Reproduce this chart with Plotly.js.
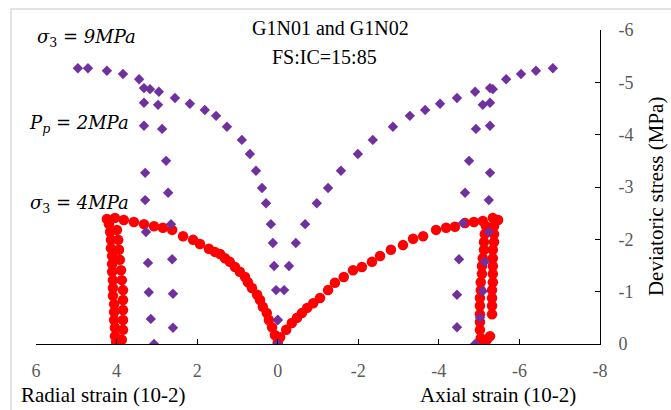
<!DOCTYPE html>
<html>
<head>
<meta charset="utf-8">
<script src="https://cdn.plot.ly/plotly-3.0.1.min.js"></script>
<style>html,body{margin:0;padding:0;background:#fff;}#chart{width:671px;height:410px;}</style>
</head>
<body>
<div id="chart"></div>
<script>
// ---- Data (strain in 10^-2, deviatoric stress in MPa) ----
// sigma3 = 9 MPa test (purple diamonds)
const p9RadialX = [0.00,0.00,0.04,0.09,0.12,0.17,0.29,0.39,0.54,0.69,0.89,1.26,1.53,1.81,2.18,2.55,2.95,3.44,3.84,4.24,4.71,4.96];
const p9RadialY = [0,-0.46,-1.03,-1.49,-1.93,-2.29,-2.69,-2.98,-3.31,-3.63,-3.90,-4.15,-4.36,-4.47,-4.59,-4.70,-4.82,-5.06,-5.16,-5.22,-5.27,-5.27];
const p9AxialX = [0.00,-0.16,-0.28,-0.45,-0.68,-0.97,-1.25,-1.57,-1.99,-2.36,-2.86,-3.28,-3.66,-4.03,-4.45,-4.90,-5.67,-6.04,-6.41,-6.83];
const p9AxialY = [-0.46,-1.03,-1.49,-1.93,-2.29,-2.69,-2.98,-3.31,-3.63,-3.90,-4.15,-4.36,-4.47,-4.59,-4.70,-4.82,-5.06,-5.16,-5.22,-5.27];
const p9bRadialX = [3.07,3.15,3.20,3.22,3.27,3.29,3.29,3.32,3.32,3.32];
const p9bRadialY = [0,-0.48,-0.99,-1.55,-2.14,-2.75,-3.27,-4.17,-4.61,-4.89];
const p9bAxialX = [-4.90,-5.02,-5.09,-5.14,-5.24,-5.24,-5.27,-5.27,-5.27,-5.34];
const p9bAxialY = [0,-0.50,-1.01,-1.57,-2.14,-2.75,-3.27,-4.17,-4.61,-4.87];
const p9cRadialX = [2.60,2.60,2.62,2.65,2.72,2.77,2.87,2.97,3.17];
const p9cRadialY = [-0.31,-0.96,-1.62,-2.29,-2.89,-3.50,-4.11,-4.57,-4.87];
const p9cAxialX = [-4.45,-4.45,-4.50,-4.60,-4.65,-4.75,-4.92,-5.09,-5.27];
const p9cAxialY = [-0.32,-0.94,-1.62,-2.31,-2.89,-3.50,-4.11,-4.57,-4.89];

// sigma3 = 4 MPa test (red circles)
const r4RadialX = [0.00,0.07,0.14,0.22,0.27,0.37,0.44,0.51,0.64,0.74,0.81,0.94,1.06,1.19,1.31,1.43,1.56,1.71,1.93,2.10,2.35,2.62,2.85,3.07,3.32,3.57,3.82,4.04,4.24];
const r4RadialY = [-0.02,-0.17,-0.32,-0.46,-0.59,-0.71,-0.84,-0.94,-1.07,-1.18,-1.28,-1.38,-1.47,-1.57,-1.64,-1.72,-1.76,-1.82,-1.91,-1.99,-2.06,-2.18,-2.22,-2.25,-2.29,-2.33,-2.37,-2.41,-2.39];
const r4RadPost1X = [4.19,4.16,4.14,4.14,4.11,4.11,4.11,4.09,4.09,4.09,4.06,4.06,4.06,4.04,4.04,4.01];
const r4RadPost1Y = [-2.29,-2.14,-1.99,-1.83,-1.68,-1.53,-1.38,-1.22,-1.07,-0.92,-0.76,-0.61,-0.46,-0.31,-0.15,-0.04];
const r4RadPost2X = [3.99,3.96,3.94,3.92,3.89,3.87,3.84,3.84,3.84,3.84,3.84,3.87];
const r4RadPost2Y = [-2.18,-1.99,-1.80,-1.61,-1.41,-1.22,-1.03,-0.84,-0.65,-0.46,-0.27,-0.08];
const r4AxialX = [-0.06,-0.21,-0.35,-0.48,-0.60,-0.73,-0.88,-1.05,-1.25,-1.42,-1.64,-1.87,-2.09,-2.34,-2.54,-2.81,-3.11,-3.36,-3.61,-3.93,-4.18,-4.40,-4.65,-4.87,-5.09,-5.34,-5.47];
const r4AxialY = [-0.13,-0.27,-0.40,-0.50,-0.59,-0.69,-0.78,-0.88,-1.03,-1.17,-1.28,-1.41,-1.47,-1.57,-1.68,-1.80,-1.89,-2.01,-2.06,-2.18,-2.22,-2.24,-2.31,-2.33,-2.35,-2.41,-2.37];
const r4AxPost1X = [-5.37,-5.37,-5.37,-5.34,-5.34,-5.34,-5.34,-5.34,-5.32,-5.32,-5.32,-5.32,-5.27,-5.19];
const r4AxPost1Y = [-2.25,-2.10,-1.95,-1.80,-1.64,-1.49,-1.34,-1.18,-1.03,-0.88,-0.73,-0.57,-0.15,-0.08];
const r4AxPost2X = [-5.17,-5.14,-5.12,-5.12,-5.09,-5.07,-5.07,-5.04,-5.04,-5.02,-5.02,-5.02,-5.02,-5.02,-5.04,-5.07];
const r4AxPost2Y = [-2.25,-2.10,-1.95,-1.80,-1.64,-1.49,-1.34,-1.18,-1.03,-0.88,-0.73,-0.57,-0.42,-0.27,-0.11,0];

// Tick labels
const xTickVals = [6,4,2,0,-2,-4,-6,-8];
const xTickText = ['6','4','2','0','-2','-4','-6','-8'];
const yTickVals = [0,-1,-2,-3,-4,-5,-6];
const yTickText = ['0','-1','-2','-3','-4','-5','-6'];

// Text
const titleLine1 = 'G1N01 and G1N02';
const titleLine2 = 'FS:IC=15:85';
const xTitleLeft = 'Radial strain (10-2)';
const xTitleRight = 'Axial strain (10-2)';
const yTitle = 'Deviatoric stress (MPa)';

// ---- Chart ----
const SERIF = 'Liberation Serif';
const MATH = 'DejaVu Serif';
const RED = '#FF0000', PURPLE = '#7030A0';
function redTrace(x, y, name){ return {x:x, y:y, name:name, type:'scatter', mode:'markers', marker:{symbol:'circle', size:10.5, color:RED}}; }
function purpleTrace(x, y, name){ return {x:x, y:y, name:name, type:'scatter', mode:'markers', marker:{symbol:'diamond', size:8, color:PURPLE}}; }

const traces = [
  redTrace(r4RadialX, r4RadialY, 'σ3=4MPa radial'),
  redTrace(r4RadPost1X, r4RadPost1Y, 'σ3=4MPa radial post 1'),
  redTrace(r4RadPost2X, r4RadPost2Y, 'σ3=4MPa radial post 2'),
  redTrace(r4AxialX, r4AxialY, 'σ3=4MPa axial'),
  redTrace(r4AxPost1X, r4AxPost1Y, 'σ3=4MPa axial post 1'),
  redTrace(r4AxPost2X, r4AxPost2Y, 'σ3=4MPa axial post 2'),
  purpleTrace(p9RadialX, p9RadialY, 'σ3=9MPa radial'),
  purpleTrace(p9AxialX, p9AxialY, 'σ3=9MPa axial'),
  purpleTrace(p9bRadialX, p9bRadialY, 'σ3=9MPa radial b'),
  purpleTrace(p9bAxialX, p9bAxialY, 'σ3=9MPa axial b'),
  purpleTrace(p9cRadialX, p9cRadialY, 'σ3=9MPa radial c'),
  purpleTrace(p9cAxialX, p9cAxialY, 'σ3=9MPa axial c')
];

const mathFont = {family: MATH, size: 18, color: '#000'};
const layout = {
  width: 671, height: 410,
  margin: {l: 36, r: 71, t: 30, b: 66, pad: 0},
  paper_bgcolor: '#fff', plot_bgcolor: '#fff',
  showlegend: false,
  font: {family: SERIF, size: 18, color: '#595959'},
  xaxis: {
    range: [6, -8], tickmode: 'array', tickvals: xTickVals, ticktext: xTickText,
    showgrid: false, zeroline: false, showline: true, linecolor: '#000', linewidth: 1,
    ticks: 'inside', ticklen: 5, tickcolor: '#000', tickwidth: 1,
    ticklabelstandoff: 10, tickfont: {family: SERIF, size: 18, color: '#595959'}
  },
  yaxis: {
    range: [0, -6], side: 'right', tickmode: 'array', tickvals: yTickVals, ticktext: yTickText,
    showgrid: false, zeroline: false, showline: true, linecolor: '#000', linewidth: 1,
    ticks: 'inside', ticklen: 5, tickcolor: '#000', tickwidth: 1,
    ticklabelstandoff: 14, tickfont: {family: SERIF, size: 18, color: '#595959'}
  },
  shapes: [
    {type: 'rect', xref: 'paper', yref: 'paper', x0: -0.0443, y0: -0.3, x1: 1.3, y1: 1.0669,
     line: {color: '#D9D9D9', width: 1.5}, fillcolor: 'rgba(0,0,0,0)', layer: 'below'}
  ],
  annotations: [
    {text: titleLine1, xref: 'paper', yref: 'paper', x: 0.523, y: 1.006, showarrow: false, xanchor: 'center', yanchor: 'middle', font: {family: SERIF, size: 20, color: '#000'}},
    {text: titleLine2, xref: 'paper', yref: 'paper', x: 0.512, y: 0.914, showarrow: false, xanchor: 'center', yanchor: 'middle', font: {family: SERIF, size: 20, color: '#000'}},
    {text: xTitleLeft, xref: 'paper', yref: 'paper', x: 0.119, y: -0.162, showarrow: false, xanchor: 'center', yanchor: 'middle', font: {family: SERIF, size: 21, color: '#000'}},
    {text: xTitleRight, xref: 'paper', yref: 'paper', x: 0.819, y: -0.162, showarrow: false, xanchor: 'center', yanchor: 'middle', font: {family: SERIF, size: 21, color: '#000'}},
    {text: yTitle, xref: 'paper', yref: 'paper', x: 1.0993, y: 0.468, textangle: -90, showarrow: false, xanchor: 'center', yanchor: 'middle', font: {family: SERIF, size: 21, color: '#000'}},
    {text: '<i>σ</i><sub>3</sub> = <i>9MPa</i>', xref: 'paper', yref: 'paper', x: -0.002, y: 0.975, showarrow: false, xanchor: 'left', yanchor: 'middle', font: mathFont},
    {text: '<i>P</i><sub><i>p</i></sub> = <i>2MPa</i>', xref: 'paper', yref: 'paper', x: -0.016, y: 0.70, showarrow: false, xanchor: 'left', yanchor: 'middle', font: mathFont},
    {text: '<i>σ</i><sub>3</sub> = <i>4MPa</i>', xref: 'paper', yref: 'paper', x: -0.014, y: 0.445, showarrow: false, xanchor: 'left', yanchor: 'middle', font: mathFont}
  ]
};

Plotly.newPlot('chart', traces, layout, {displayModeBar: false, staticPlot: true});
</script>
</body>
</html>
